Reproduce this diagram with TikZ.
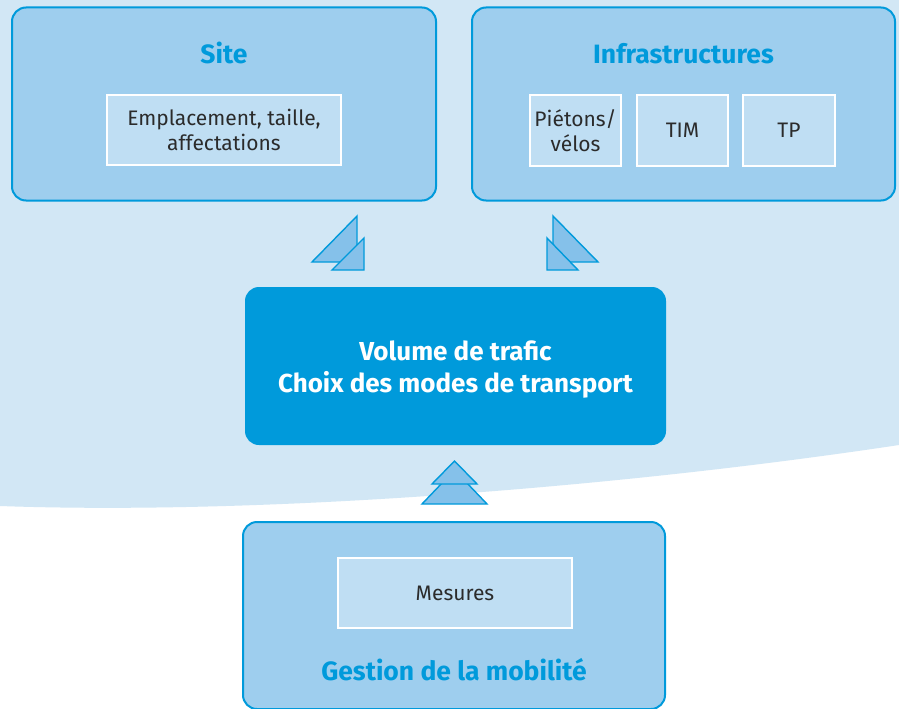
\documentclass[tikz,border=0pt]{standalone}
\usepackage{fontspec}
\setmainfont{Fira Sans}
\usepackage{tikz}

\definecolor{bgblue}{HTML}{D2E7F5}
\definecolor{boxblue}{HTML}{9ECEEE}
\definecolor{cellblue}{HTML}{BFDEF3}
\definecolor{darkblue}{HTML}{009ADB}
\definecolor{arrowblue}{HTML}{85C1EA}
\definecolor{txtgray}{HTML}{2B2B2B}

\tikzset{
  groupbox/.style={draw=darkblue,fill=boxblue,line width=2pt,rounded corners=14pt,inner sep=0pt},
  cellbox/.style={draw=white,fill=cellblue,line width=1.3pt,inner sep=0pt,align=center,
    text=txtgray,font=\fontsize{21}{25}\selectfont},
  titletext/.style={text=darkblue,font=\fontsize{26.5}{30}\selectfont\bfseries,anchor=base},
  mainbox/.style={fill=darkblue,rounded corners=14pt,inner sep=0pt},
  maintext/.style={align=center,text=white,font=\fontsize{26}{32}\selectfont\bfseries},
  arrowtri/.style={draw=darkblue,fill=arrowblue,line width=1.4pt,line join=miter}
}

\begin{document}
\begin{tikzpicture}[x=1pt,y=-1pt]
  \useasboundingbox (0,0) rectangle (899,709);
  % pale background with curved lower edge
  \fill[white] (0,0) rectangle (899,709);
  \fill[bgblue] (0,0) -- (899,0) -- (899,445) .. controls (600,490) and (250,515) .. (0,506) -- cycle;

  % top boxes
  \node[groupbox,minimum width=424pt,minimum height=193pt] (site) at (224,104) {};
  \node[groupbox,minimum width=423pt,minimum height=193pt] (infra) at (683.5,104) {};
  \node[titletext] (sitetitle) at (224,63.5) {Site};
  \node[titletext] (infratitle) at (683.5,63.5) {Infrastructures};
  \node[cellbox,minimum width=234pt,minimum height=70pt] (emplacement) at (224,130) {Emplacement, taille,\\affectations};
  \node[cellbox,minimum width=91pt,minimum height=71pt] (pietons) at (575.5,130.5) {Piétons/\\vélos};
  \node[cellbox,minimum width=91pt,minimum height=71pt] (tim) at (682.5,130.5) {TIM};
  \node[cellbox,minimum width=92pt,minimum height=71pt] (tp) at (789,130.5) {TP};

  % central box
  \node[mainbox,minimum width=421pt,minimum height=158pt] (volume) at (455.5,366) {};
  \node[maintext] (volumetext) at (455.5,370) {Volume de trafic\\Choix des modes de transport};

  % bottom box
  \node[groupbox,minimum width=422pt,minimum height=187pt] (gestion) at (454,615.5) {};
  \node[cellbox,minimum width=234pt,minimum height=70pt] (mesures) at (455,593) {Mesures};
  \node[titletext] (gestiontitle) at (454,680) {Gestion de la mobilité};

  % arrows towards site
  \draw[arrowtri] (312,262) -- (357,216) -- (357,262) -- cycle;
  \draw[arrowtri] (332,270) -- (364,238) -- (364,270) -- cycle;
  % arrows towards infrastructures
  \draw[arrowtri] (598,262) -- (553,216) -- (553,262) -- cycle;
  \draw[arrowtri] (578,270) -- (547,238) -- (547,270) -- cycle;
  % arrows from mobility management
  \draw[arrowtri] (422,504) -- (454.5,470) -- (487,504) -- cycle;
  \draw[arrowtri] (432,484) -- (454.5,461) -- (477,484) -- cycle;
\end{tikzpicture}
\end{document}
